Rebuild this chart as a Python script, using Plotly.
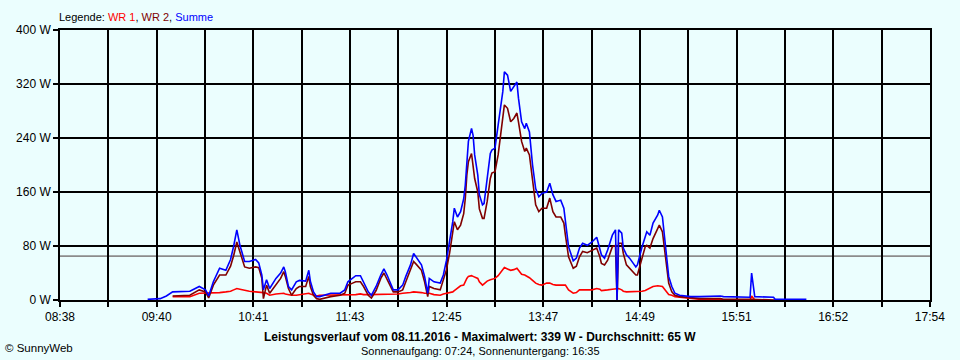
import plotly.graph_objects as go
import pandas as pd

DATE = "2016-11-08"

# Time stamps (HH:MM) of the readings
times = [
    "09:34", "09:42", "09:46", "09:50", "10:01", "10:07", "10:11", "10:13", "10:16", "10:20",
    "10:24", "10:27", "10:29", "10:31", "10:33", "10:36", "10:39", "10:43", "10:45", "10:47",
    "10:48", "10:50", "10:52", "10:56", "10:59", "11:01", "11:02", "11:04", "11:06", "11:09",
    "11:11", "11:15", "11:17", "11:18", "11:20", "11:22", "11:24", "11:31", "11:37", "11:40",
    "11:42", "11:45", "11:47", "11:50", "11:52", "11:55", "11:57", "12:00", "12:03", "12:05",
    "12:07", "12:09", "12:11", "12:14", "12:17", "12:19", "12:22", "12:24", "12:26", "12:29",
    "12:31", "12:33", "12:34", "12:37", "12:41", "12:43", "12:45", "12:47", "12:49", "12:50",
    "12:52", "12:54", "12:56", "12:57", "12:58", "12:59", "13:01", "13:02", "13:03", "13:05",
    "13:06", "13:08", "13:09", "13:11", "13:13", "13:14", "13:16", "13:18", "13:21", "13:22",
    "13:24", "13:26", "13:28", "13:30", "13:31", "13:33", "13:35", "13:36", "13:38", "13:40",
    "13:42", "13:44", "13:46", "13:49", "13:51", "13:53", "13:55", "13:58", "14:00", "14:01",
    "14:03", "14:06", "14:08", "14:10", "14:12", "14:15", "14:18", "14:21", "14:23", "14:24",
    "14:26", "14:28", "14:31", "14:33", "14:34", "14:35", "14:37", "14:38", "14:40", "14:42",
    "14:46", "14:47", "14:50", "14:52", "14:53", "14:55", "14:57", "15:00", "15:01", "15:03",
    "15:04", "15:06", "15:07", "15:09", "15:11", "15:14", "15:21", "15:27", "15:40", "15:42",
    "15:59", "16:00", "16:02", "16:14", "16:15", "16:35",
]

wr1 = [
    None, None, None, 5, 5, 10, 10, 10, 11, 11,
    12, 13, 15, 17, 16, 14, 13, 12, 12, 11,
    11, 10, 7, 9, 10, 10, 9, 8, 7, 7,
    8, 9, 10, 9, 7, 6, 7, 7, 8, 8,
    8, 8, 8, 9, 8, 8, 8, 8, 9, 9,
    9, 9, 9, 9, 10, 10, 11, 12, 12, 11,
    10, 10, 10, 8, 7, 9, 10, 12, 12, 14,
    18, 21, 22, 28, 32, 35, 36, 35, 34, 32,
    27, 22, 24, 28, 30, 31, 32, 36, 44, 48,
    46, 44, 45, 47, 44, 38, 37, 36, 33, 29,
    25, 23, 22, 25, 25, 23, 22, 22, 22, 22,
    15, 10, 11, 15, 15, 15, 15, 17, 16, 14,
    14, 15, 16, 17, 17, 17, 15, 13, 12, 12,
    12, 12, 13, 14, 15, 17, 20, 21, 21, 20,
    17, 10, 8, 7, 5, 4, 2, 1, 1, 0,
    0, 6, 0, None, None, None,
]

wr2 = [
    None, None, None, 6, 7, 15, 12, 3, 22, 37,
    37, 50, 66, 86, 72, 49, 47, 49, 48, 32,
    2, 22, 10, 22, 32, 42, 35, 17, 7, 17,
    20, 20, 35, 20, 7, 2, 1, 5, 7, 10,
    22, 25, 27, 27, 20, 7, 3, 14, 32, 40,
    30, 20, 12, 12, 15, 27, 44, 57, 52, 44,
    27, 5, 20, 17, 15, 30, 45, 70, 106, 116,
    104, 111, 128, 150, 185, 205, 217, 200, 180, 160,
    135, 121, 121, 146, 180, 188, 190, 215, 265, 289,
    284, 264, 269, 277, 264, 235, 220, 225, 215, 175,
    141, 131, 136, 136, 151, 131, 123, 123, 114, 96,
    64, 47, 50, 64, 72, 70, 74, 77, 64, 54,
    52, 59, 79, 81, 0, 84, 84, 69, 52, 47,
    37, 37, 62, 79, 81, 77, 91, 106, 111, 101,
    84, 49, 25, 12, 7, 5, 3, 2, 2, 1,
    1, 1, 1, 1, 0, None,
]

summe = [
    1, 2, 6, 12, 13, 20, 15, 6, 27, 47,
    44, 60, 80, 104, 81, 57, 57, 60, 55, 37,
    15, 30, 17, 32, 40, 49, 42, 20, 15, 27,
    29, 28, 44, 28, 12, 5, 5, 10, 10, 15,
    27, 32, 36, 36, 27, 12, 7, 20, 37, 46,
    37, 27, 15, 15, 22, 35, 52, 69, 62, 52,
    35, 10, 32, 27, 25, 37, 59, 85, 116, 136,
    123, 131, 150, 170, 210, 235, 254, 244, 215, 185,
    156, 141, 143, 180, 217, 222, 225, 259, 309, 338,
    333, 309, 316, 323, 299, 264, 254, 262, 249, 200,
    165, 153, 158, 160, 173, 156, 146, 148, 136, 116,
    79, 58, 62, 77, 84, 81, 86, 93, 74, 67,
    62, 74, 96, 104, 0, 104, 99, 77, 67, 62,
    49, 52, 79, 96, 101, 96, 114, 126, 133, 123,
    99, 59, 35, 20, 10, 7, 5, 5, 6, 5,
    4, 40, 5, 4, 1, 1,
]

AVERAGE = 65
MAXIMUM = 339

x_tick_labels = ["08:38", "09:40", "10:41", "11:43", "12:45",
                 "13:47", "14:49", "15:51", "16:52", "17:54"]
y_ticks = [0, 80, 160, 240, 320, 400]

series_names = ["WR 1", "WR 2", "Summe"]
series_colors = ["#FF0000", "#800000", "#0000FF"]

BG = "#EBFEFE"
FONT = "Liberation Sans, Arial, sans-serif"

x_dt = [f"{DATE} {t}" for t in times]

fig = go.Figure()
for name, vals, col in zip(series_names, [wr1, wr2, summe], series_colors):
    fig.add_trace(go.Scatter(x=x_dt, y=vals, mode="lines", name=name,
                             line=dict(color=col, width=1.6),
                             connectgaps=False, showlegend=False))

# x grid: 18 equal intervals between first and last label
start = pd.Timestamp(f"{DATE} {x_tick_labels[0]}")
end = pd.Timestamp(f"{DATE} {x_tick_labels[-1]}")
n_int = 2 * (len(x_tick_labels) - 1)
step = (end - start) / n_int
tickvals = [start + i * step for i in range(n_int + 1)]
ticktext = []
for i in range(n_int + 1):
    ticktext.append(x_tick_labels[i // 2] if i % 2 == 0 else "")

fig.add_shape(type="line", xref="paper", x0=0, x1=1, yref="y", y0=AVERAGE, y1=AVERAGE,
              line=dict(color="#8C8C8C", width=1.6), layer="below")

fig.update_xaxes(range=[start, end], tickvals=tickvals, ticktext=ticktext,
                 showgrid=True, gridcolor="black", gridwidth=1.6,
                 showline=True, linecolor="black", linewidth=1.6, mirror=True,
                 ticks="outside", ticklen=5, tickcolor="black", tickwidth=1.6,
                 tickfont=dict(family=FONT, size=12, color="black"), zeroline=False)
fig.update_yaxes(range=[0, 400], tickvals=y_ticks, ticktext=[f"{v} W" for v in y_ticks],
                 showgrid=True, gridcolor="black", gridwidth=1.6,
                 showline=True, linecolor="black", linewidth=1.6, mirror=True,
                 ticks="outside", ticklen=5, tickcolor="black", tickwidth=1.6,
                 tickfont=dict(family=FONT, size=12, color="black"), zeroline=False)

legend_html = ("Legende: "
               + ", ".join(f"<span style='color:{c}'>{n}</span>"
                           for n, c in zip(series_names, series_colors)))

fig.add_annotation(text=legend_html, xref="paper", yref="paper", x=-0.003, y=1.0,
                   xanchor="left", yanchor="bottom", yshift=5, showarrow=False,
                   font=dict(family=FONT, size=11, color="black"))
fig.add_annotation(text=f"<b>Leistungsverlauf vom 08.11.2016 - Maximalwert: {MAXIMUM} W - Durchschnitt: {AVERAGE} W</b>",
                   xref="paper", yref="paper", x=0.483, y=0, yshift=-37, xanchor="center",
                   yanchor="middle", showarrow=False,
                   font=dict(family=FONT, size=12, color="black"))
fig.add_annotation(text="Sonnenaufgang: 07:24, Sonnenuntergang: 16:35",
                   xref="paper", yref="paper", x=0.483, y=0, yshift=-51, xanchor="center",
                   yanchor="middle", showarrow=False,
                   font=dict(family=FONT, size=11, color="black"))
fig.add_annotation(text="© SunnyWeb", xref="paper", yref="paper", x=-0.065, y=0,
                   yshift=-48, xanchor="left", yanchor="middle", showarrow=False,
                   font=dict(family=FONT, size=11.5, color="black"))

fig.update_layout(width=960, height=360, paper_bgcolor=BG, plot_bgcolor=BG,
                  margin=dict(l=60, r=30, t=30, b=60), showlegend=False)

fig.write_html("out.html", config={"displayModeBar": False},
               post_script=f"document.body.style.margin='0';document.body.style.background='{BG}';document.body.style.overflow='hidden';")
